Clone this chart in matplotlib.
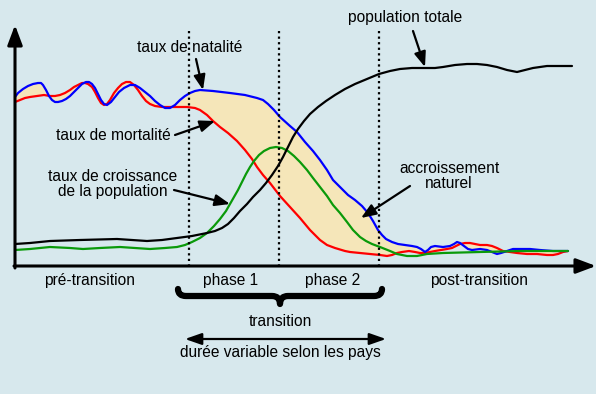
import matplotlib.pyplot as plt
from matplotlib.path import Path
from matplotlib.patches import PathPatch

plt.rcParams['font.family'] = ['Liberation Sans', 'DejaVu Sans']

# curves, in pixel coords (y grows downward)
natal_x = [15, 18, 23, 28, 33, 38, 41, 43, 46, 49, 52, 55, 58, 62, 66, 70, 74, 78, 82, 86, 89, 92,
           95, 98, 101, 104, 107, 111, 115, 119, 124, 130, 135, 140, 145, 150, 155, 160, 165, 170,
           175, 180, 185, 190, 195, 200, 213, 230, 245, 257, 263, 268, 274, 280, 290, 297, 305, 313,
           320, 327, 333, 340, 348, 355, 362, 368, 373, 378, 382, 386, 392, 398, 405, 412, 417, 421,
           425, 428, 431, 435, 443, 450, 454, 457, 460, 464, 468, 472, 480, 487, 492, 497, 501, 507,
           513, 520, 530, 540, 553, 568]
natal_y = [97, 93, 89, 86, 84, 83, 83, 85, 90, 96, 100, 102, 102, 101, 99, 96, 92, 88, 84, 82, 82, 84,
           88, 94, 100, 104, 105, 102, 97, 92, 88, 85, 85, 88, 92, 96, 101, 105, 108, 108,
           105, 100, 96, 93, 91, 90, 91, 93, 95, 98, 100, 104, 110, 117, 126, 132, 142, 151,
           160, 170, 180, 187, 195, 200, 206, 213, 221, 230, 235, 239, 242, 244, 245, 246, 247, 249,
           252, 250, 247, 246, 247, 246, 244, 242, 243, 246, 249, 250, 249, 250, 252, 254, 253, 251,
           249, 249, 249, 250, 251, 251]

mort_x = [15, 20, 25, 30, 37, 44, 50, 55, 60, 65, 70, 74, 78, 82, 85, 88, 92, 95, 98, 101, 104, 107,
          110, 114, 118, 122, 126, 130, 134, 138, 142, 146, 150, 155, 162, 175, 187, 195, 200, 207,
          213, 220, 228, 237, 245, 252, 257, 263, 270, 280, 290, 300, 310, 320, 327, 335, 345, 350,
          360, 370, 380, 387, 392, 397, 402, 409, 415, 420, 425, 430, 435, 441, 447, 452, 456, 460,
          465, 470, 475, 480, 487, 492, 497, 503, 510, 517, 527, 537, 547, 553, 558, 563, 568]
mort_y = [102, 100, 98, 97, 96, 95, 96, 96, 95, 93, 90, 87, 85, 83, 83, 84, 87, 92, 98, 103, 105, 104,
          100, 93, 88, 84, 82, 82, 85, 90, 96, 101, 104, 106, 107, 107, 107, 108, 110, 115,
          121, 127, 133, 141, 150, 159, 167, 175, 183, 196, 207, 218, 230, 240, 245, 248, 251, 252,
          253, 254, 255, 256, 255, 253, 252, 251, 252, 253, 253, 252, 251, 250, 249, 248, 246, 244,
          243, 243, 244, 245, 245, 246, 248, 251, 252, 253, 254, 254, 255, 255, 254, 252, 251]

crois_x = [15, 30, 50, 70, 83, 100, 120, 135, 150, 165, 177, 185, 192, 200, 207, 214, 220, 226, 230,
           234, 238, 242, 246, 250, 254, 259, 264, 270, 276, 282, 288, 294, 300, 307, 313, 320, 327,
           333, 340, 347, 353, 360, 366, 372, 380, 390, 397, 407, 417, 427, 443, 480, 520, 568]
crois_y = [250, 249, 247, 248, 249, 248, 247, 248, 249, 248, 247, 245, 242, 238, 233, 226, 219, 211, 204,
           197, 190, 182, 174, 167, 161, 155, 151, 148, 147, 148, 151, 156, 162, 170, 178, 187, 196,
           205, 213, 222, 230, 237, 241, 244, 247, 251, 254, 256, 256, 254, 253, 252, 251, 251]

pop_x = [15, 30, 50, 80, 117, 132, 147, 162, 177, 192, 207, 215, 222, 228, 234, 240, 247, 253, 260,
         266, 272, 278, 283, 288, 293, 298, 304, 310, 318, 326, 335, 345, 355, 367, 379, 390, 400,
         412, 425, 435, 443, 455, 467, 477, 487, 497, 507, 517, 525, 533, 547, 560, 572]
pop_y = [244, 243, 241, 240, 239, 240, 241, 240, 238, 236, 233, 231, 228, 224, 218, 211, 204, 197, 190,
         183, 175, 166, 157, 147, 137, 129, 121, 114, 107, 101, 95, 89, 84, 79, 74, 71, 69,
         68, 68, 68, 67, 65, 64, 64, 65, 67, 70, 72, 70, 68, 66, 66, 66]

phases_x = [189, 279, 379]

bg = '#d7e8ed'
fig = plt.figure(figsize=(5.96, 3.94), dpi=100, facecolor=bg)
ax = fig.add_axes([0, 0, 1, 1])
ax.set_xlim(0, 596)
ax.set_ylim(394, 0)
ax.axis('off')

# area between natality and mortality
ax.fill(natal_x + mort_x[::-1], natal_y + mort_y[::-1], color='#f5e6b9', lw=0, zorder=1)

lk = dict(lw=1.6, solid_joinstyle='round', solid_capstyle='round')
ax.plot(mort_x, mort_y, color='#ff0000', zorder=3, **lk)
ax.plot(natal_x, natal_y, color='#0000ff', zorder=3, **lk)
ax.plot(crois_x, crois_y, color='#0a9a0a', zorder=4, **lk)
ax.plot(pop_x, pop_y, color='black', zorder=5, **lk)

for px in phases_x:
    ax.plot([px, px], [31, 266], color='black', lw=1.6, ls=(0, (1, 1.5)), zorder=6)

# axes with arrows
ap = dict(arrowstyle='-|>,head_length=1.2,head_width=0.45', color='black', lw=2.2,
          shrinkA=0, shrinkB=0)
ax.annotate('', xy=(15, 25), xytext=(15, 268), arrowprops=ap, zorder=7)
ax.annotate('', xy=(596, 266), xytext=(14, 266), arrowprops=ap, zorder=7)

fs = 11.2
ax.text(190, 47, 'taux de natalité', fontsize=fs, ha='center', va='center')
ax.text(405, 17, 'population totale', fontsize=fs, ha='center', va='center')
ax.text(113, 136, 'taux de mortalité', fontsize=fs, ha='center', va='center')
ax.text(113, 184, 'taux de croissance\nde la population', fontsize=fs, ha='center', va='center',
        linespacing=1.05)
ax.text(449, 176, 'accroissement\nnaturel', fontsize=fs, ha='center', va='center', linespacing=1.05)
ax.text(90, 281, 'pré-transition', fontsize=fs, ha='center', va='center')
ax.text(231, 281, 'phase 1', fontsize=fs, ha='center', va='center')
ax.text(333, 281, 'phase 2', fontsize=fs, ha='center', va='center')
ax.text(479, 281, 'post-transition', fontsize=fs, ha='center', va='center')
ax.text(280, 322, 'transition', fontsize=fs, ha='center', va='center')
ax.text(280, 353, 'durée variable selon les pays', fontsize=fs, ha='center', va='center')

# label arrows
la = dict(arrowstyle='-|>,head_length=0.9,head_width=0.35', color='black', lw=1.6,
          shrinkA=0, shrinkB=0)
ax.annotate('', xy=(203, 90), xytext=(196, 59), arrowprops=la, zorder=8)
ax.annotate('', xy=(215, 121), xytext=(175, 135), arrowprops=la, zorder=8)
ax.annotate('', xy=(230, 204), xytext=(174, 190), arrowprops=la, zorder=8)
ax.annotate('', xy=(425, 67), xytext=(413, 31), arrowprops=la, zorder=8)
ax.annotate('', xy=(361, 218), xytext=(410, 186), arrowprops=la, zorder=8)

# double arrow for duration
da = dict(arrowstyle='<|-|>,head_length=1.0,head_width=0.35', color='black', lw=1.6,
          shrinkA=0, shrinkB=0)
ax.annotate('', xy=(386, 339), xytext=(185, 339), arrowprops=da)

# curly brace
verts = [(178, 289), (178, 296), (186, 296),
         (272, 296),
         (280, 296), (280, 304),
         (280, 296), (288, 296),
         (374, 296),
         (382, 296), (382, 289)]
codes = [Path.MOVETO, Path.CURVE3, Path.CURVE3,
         Path.LINETO,
         Path.CURVE3, Path.CURVE3,
         Path.CURVE3, Path.CURVE3,
         Path.LINETO,
         Path.CURVE3, Path.CURVE3]
ax.add_patch(PathPatch(Path(verts, codes), fill=False, lw=4.5, color='black',
                       capstyle='round', joinstyle='round'))

fig.savefig('out.png', dpi=100, facecolor=bg)
